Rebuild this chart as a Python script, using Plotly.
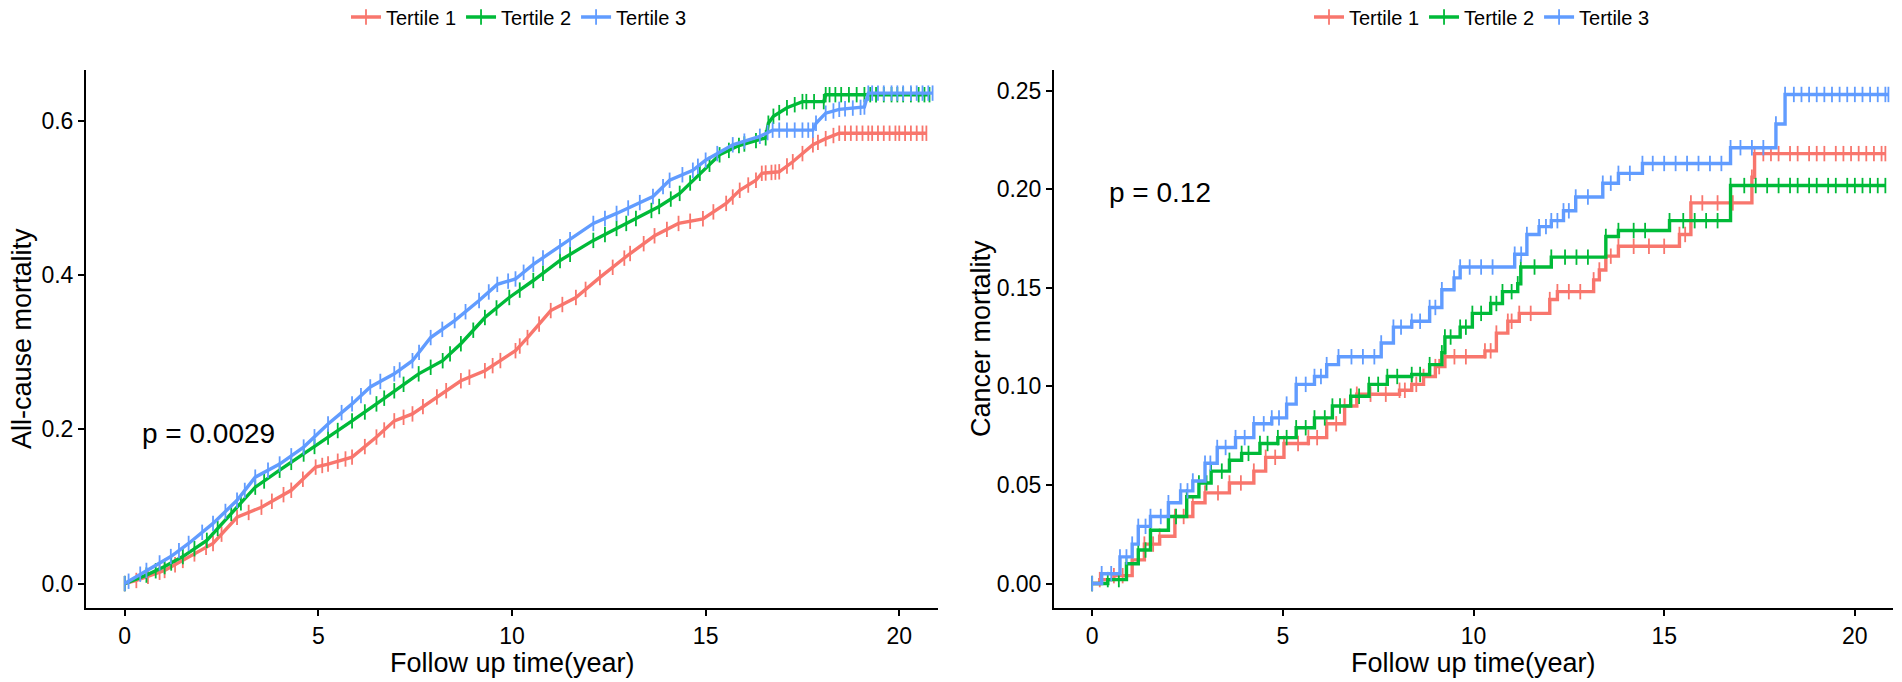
import numpy as np
import plotly.graph_objects as go
from plotly.subplots import make_subplots

# cores padrão do ggplot
cores = ["#F8766D", "#00BA38", "#619CFF"]
grupos = ["Tertile 1", "Tertile 2", "Tertile 3"]

# --- All-cause mortality (painel esquerdo) ---
ac_t1_tempo = [0, 0.3, 1.03, 1.5, 2.28, 2.9, 3.53, 4.3, 4.93, 5.25, 5.87, 6.5, 6.96, 7.43, 8.06, 8.68,
               9.3, 10.09, 10.4, 11.0, 11.65, 12.27, 13.05, 13.68, 14.3, 14.93, 15.53, 15.88, 16.3,
               16.45, 16.9, 17.25, 17.77, 18.1, 18.45, 20.7]
ac_t1_valor = [0, 0.004, 0.017, 0.03, 0.052, 0.086, 0.099, 0.121, 0.151, 0.155, 0.164, 0.19, 0.211,
               0.22, 0.242, 0.263, 0.276, 0.302, 0.319, 0.354, 0.371, 0.397, 0.428, 0.451, 0.467,
               0.473, 0.493, 0.51, 0.523, 0.532, 0.534, 0.547, 0.569, 0.577, 0.584, 0.584]
ac_t1_censura = [0.6, 0.9, 1.3, 1.8, 2.1, 2.5, 3.2, 3.8, 4.1, 4.6, 5.1, 5.5, 5.7, 6.2, 6.7, 7.2, 7.7,
                 8.3, 8.9, 9.5, 9.7, 10.2, 10.7, 11.3, 11.9, 12.6, 12.9, 13.4, 14.0, 14.6, 15.2,
                 15.7, 16.1, 16.55, 16.7, 16.8, 17.1, 17.5, 17.9, 18.3, 18.6, 18.75, 18.9, 19.05,
                 19.2, 19.3, 19.45, 19.6, 19.75, 19.9, 20.0, 20.15, 20.3, 20.45, 20.6]

ac_t2_tempo = [0, 0.56, 1.03, 1.5, 2.12, 2.75, 3.37, 4.0, 4.62, 5.25, 5.87, 6.5, 6.96, 7.59, 8.21,
               8.68, 9.3, 9.93, 10.55, 11.24, 12.1, 12.95, 13.8, 14.33, 14.85, 15.36, 15.86, 16.55,
               16.62, 16.75, 17.1, 17.5, 18.05, 18.1, 20.78]
ac_t2_valor = [0, 0.011, 0.022, 0.035, 0.056, 0.091, 0.125, 0.147, 0.168, 0.19, 0.211, 0.233, 0.25,
               0.272, 0.289, 0.311, 0.345, 0.371, 0.393, 0.419, 0.445, 0.467, 0.489, 0.506, 0.532,
               0.556, 0.568, 0.578, 0.597, 0.606, 0.617, 0.625, 0.625, 0.634, 0.634]
ac_t2_censura = [0.8, 1.2, 1.8, 2.4, 3.0, 3.6, 4.3, 4.9, 5.5, 6.2, 6.7, 7.2, 7.9, 8.4, 9.0, 9.6, 10.2,
                 10.8, 11.5, 12.4, 12.7, 13.2, 13.6, 14.1, 14.6, 15.1, 15.6, 16.0, 16.3, 16.9, 17.3,
                 17.6, 17.8, 18.2, 18.35, 18.5, 18.7, 18.9, 19.1, 19.25, 19.4, 19.6, 19.8, 19.95,
                 20.1, 20.3, 20.5, 20.65]

ac_t3_tempo = [0, 0.1, 0.56, 1.19, 1.65, 2.28, 2.9, 3.37, 4.0, 4.62, 5.25, 5.87, 6.34, 6.96, 7.43,
               7.9, 8.52, 9.15, 9.62, 10.09, 10.55, 11.24, 12.1, 12.7, 13.64, 14.07, 14.67, 15.0,
               15.7, 16.4, 16.73, 17.77, 17.85, 18.1, 18.45, 19.1, 19.2, 20.86]
ac_t3_valor = [0, 0.003, 0.017, 0.035, 0.052, 0.078, 0.108, 0.138, 0.155, 0.177, 0.207, 0.233,
               0.255, 0.272, 0.289, 0.319, 0.341, 0.367, 0.388, 0.395, 0.414, 0.437, 0.467, 0.48,
               0.502, 0.523, 0.536, 0.549, 0.569, 0.58, 0.588, 0.588, 0.597, 0.61, 0.615, 0.618,
               0.636, 0.636]
ac_t3_censura = [0.4, 0.9, 1.4, 2.0, 2.6, 3.1, 3.7, 4.3, 4.9, 5.6, 6.1, 6.6, 7.1, 7.6, 8.2, 8.8, 9.4,
                 9.9, 10.3, 10.8, 11.5, 12.4, 13.0, 13.3, 13.9, 14.4, 14.8, 15.3, 16.0, 16.6, 16.9,
                 17.1, 17.3, 17.5, 17.65, 18.3, 18.6, 18.8, 19.0, 19.3, 19.45, 19.6, 19.8, 19.95,
                 20.1, 20.3, 20.45, 20.6, 20.75]

# --- Cancer mortality (painel direito) ---
ca_t1_tempo = [0, 0.2, 0.57, 1.05, 1.37, 1.77, 2.17, 2.64, 2.96, 3.6, 4.24, 4.55, 5.03, 5.67, 6.15,
               6.62, 6.94, 8.06, 8.38, 8.69, 9.0, 9.25, 10.3, 10.6, 10.9, 11.2, 12.0, 12.2, 13.15,
               13.3, 13.47, 13.8, 15.4, 15.7, 17.3, 17.37, 20.8]
ca_t1_valor = [0, 0.002, 0.004, 0.012, 0.02, 0.024, 0.034, 0.041, 0.046, 0.051, 0.057, 0.064,
               0.071, 0.074, 0.081, 0.09, 0.096, 0.098, 0.101, 0.105, 0.11, 0.115, 0.118, 0.127,
               0.133, 0.137, 0.144, 0.148, 0.154, 0.159, 0.166, 0.171, 0.177, 0.193, 0.206, 0.218,
               0.218]
ca_t1_censura = [0.8, 1.6, 2.4, 3.3, 3.9, 4.8, 5.4, 5.9, 6.4, 7.3, 7.7, 8.2, 8.5, 9.1, 9.5, 9.8,
                 10.45, 11.0, 11.5, 12.5, 12.8, 13.6, 14.2, 14.6, 15.0, 15.55, 16.0, 16.4, 16.8,
                 17.6, 17.8, 18.0, 18.3, 18.5, 18.8, 19.0, 19.2, 19.5, 19.7, 19.9, 20.1, 20.3,
                 20.5, 20.7]

ca_t2_tempo = [0, 0.41, 0.9, 1.21, 1.53, 2.0, 2.48, 2.8, 3.12, 3.6, 3.92, 4.4, 4.87, 5.35, 5.83,
               6.3, 6.78, 7.26, 7.74, 8.38, 8.85, 9.17, 9.25, 9.65, 9.97, 10.45, 10.76, 11.16,
               11.24, 12.04, 13.47, 13.8, 15.14, 16.74, 20.8]
ca_t2_valor = [0, 0.002, 0.01, 0.017, 0.027, 0.034, 0.044, 0.051, 0.057, 0.0625, 0.066, 0.071,
               0.074, 0.079, 0.084, 0.09, 0.095, 0.101, 0.105, 0.106, 0.111, 0.117, 0.125, 0.13,
               0.137, 0.142, 0.148, 0.152, 0.1605, 0.1655, 0.176, 0.179, 0.184, 0.2018, 0.2018]
ca_t2_censura = [0.7, 1.4, 2.2, 3.0, 3.4, 4.1, 4.6, 5.1, 5.6, 6.1, 6.5, 7.0, 7.5, 8.0, 8.6, 9.4, 9.8,
                 10.2, 10.6, 11.0, 11.6, 12.4, 12.7, 13.0, 14.2, 14.5, 15.5, 15.8, 16.1, 16.4, 17.1,
                 17.4, 17.7, 18.0, 18.3, 18.5, 18.8, 19.0, 19.3, 19.5, 19.8, 20.0, 20.2, 20.4, 20.6]

ca_t3_tempo = [0, 0.25, 0.73, 1.05, 1.21, 1.53, 2.0, 2.32, 2.64, 2.96, 3.28, 3.76, 4.24, 4.71, 5.1,
               5.35, 5.83, 6.15, 6.46, 7.58, 7.9, 8.38, 8.85, 9.17, 9.49, 9.65, 11.08, 11.4, 11.72,
               12.04, 12.36, 12.68, 13.39, 13.8, 14.43, 16.74, 17.93, 18.17, 20.88]
ca_t3_valor = [0, 0.005, 0.0135, 0.02, 0.029, 0.034, 0.041, 0.047, 0.052, 0.061, 0.069, 0.074,
               0.081, 0.084, 0.091, 0.101, 0.105, 0.111, 0.115, 0.122, 0.13, 0.133, 0.14, 0.149,
               0.155, 0.1605, 0.167, 0.177, 0.181, 0.184, 0.189, 0.196, 0.203, 0.208, 0.213, 0.221,
               0.233, 0.248, 0.248]
ca_t3_censura = [0.5, 0.9, 1.4, 1.8, 2.5, 3.1, 3.5, 4.0, 4.5, 4.9, 5.6, 6.0, 6.8, 7.1, 7.4, 8.1,
                 8.6, 9.0, 9.9, 10.2, 10.5, 11.25, 11.9, 12.2, 12.5, 13.0, 13.6, 14.1, 14.7, 15.0,
                 15.3, 15.6, 15.9, 16.2, 16.5, 17.0, 17.3, 17.6, 18.4, 18.6, 18.8, 19.0, 19.2, 19.4,
                 19.6, 19.8, 20.0, 20.2, 20.4, 20.6, 20.8]

paineis = [
    [(ac_t1_tempo, ac_t1_valor, ac_t1_censura),
     (ac_t2_tempo, ac_t2_valor, ac_t2_censura),
     (ac_t3_tempo, ac_t3_valor, ac_t3_censura)],
    [(ca_t1_tempo, ca_t1_valor, ca_t1_censura),
     (ca_t2_tempo, ca_t2_valor, ca_t2_censura),
     (ca_t3_tempo, ca_t3_valor, ca_t3_censura)],
]
# painel esquerdo: muitos eventos, degraus minúsculos -> linha contínua
formas = ["linear", "hv"]


def valor_na_curva(tempo, valor, t, forma):
    if forma == "hv":
        idx = np.searchsorted(tempo, t, side="right") - 1
        return [valor[j] for j in idx]
    return list(np.interp(t, tempo, valor))


fonte = "Liberation Sans, Arial, sans-serif"
# a página tem margem de 8 px no body; tudo medido em px da imagem, menos 8
W, H = 1894, 674
OFF = 8


def px_x(x):
    return (x - OFF) / W


def px_y(y):
    return 1 - (y - OFF) / H


fig = make_subplots(rows=1, cols=2)

for col, curvas in enumerate(paineis, start=1):
    legenda = "legend" if col == 1 else "legend2"
    forma = formas[col - 1]
    for i, (tempo, valor, censura) in enumerate(curvas):
        marcador = dict(symbol="line-ns", size=11, line=dict(width=1.8, color=cores[i]))
        fig.add_trace(go.Scatter(
            x=tempo, y=valor, mode="lines+markers", name=grupos[i],
            line=dict(color=cores[i], width=3.4, shape=forma),
            marker=marcador, legend=legenda,
        ), row=1, col=col)
        # marcas de censura sobre a curva
        fig.add_trace(go.Scatter(
            x=censura, y=valor_na_curva(tempo, valor, censura, forma), mode="markers",
            marker=marcador, showlegend=False, hoverinfo="skip",
        ), row=1, col=col)

eixo = dict(showgrid=False, zeroline=False, showline=True, linecolor="black", linewidth=2,
            ticks="outside", ticklen=6, tickwidth=2, tickcolor="black", automargin=False,
            tickfont=dict(size=23, color="black", family=fonte))

fig.update_layout(
    width=W, height=H,
    # sem autoexpand: a legenda junto ao topo não pode empurrar a área do gráfico
    margin=dict(l=0, r=0, t=0, b=0, autoexpand=False),
    plot_bgcolor="white", paper_bgcolor="white",
    font=dict(family=fonte, color="black"),
    xaxis=dict(eixo, domain=[px_x(86), px_x(938)], range=[-1.0, 21.0], tickvals=[0, 5, 10, 15, 20]),
    xaxis2=dict(eixo, domain=[px_x(1054), px_x(1893)], range=[-1.0, 21.0], tickvals=[0, 5, 10, 15, 20]),
    yaxis=dict(eixo, domain=[px_y(608), px_y(70)], range=[-0.0317, 0.666],
               tickvals=[0, 0.2, 0.4, 0.6], ticktext=["0.0", "0.2", "0.4", "0.6"]),
    yaxis2=dict(eixo, domain=[px_y(608), px_y(70)], range=[-0.0124, 0.2604],
                tickvals=[0, 0.05, 0.1, 0.15, 0.2, 0.25],
                ticktext=["0.00", "0.05", "0.10", "0.15", "0.20", "0.25"]),
    legend=dict(orientation="h", x=px_x(519), xanchor="center", y=px_y(17), yanchor="middle",
                font=dict(size=20), itemwidth=30, bgcolor="rgba(0,0,0,0)"),
    legend2=dict(orientation="h", x=px_x(1482), xanchor="center", y=px_y(17), yanchor="middle",
                 font=dict(size=20), itemwidth=30, bgcolor="rgba(0,0,0,0)"),
)

# títulos dos eixos e valores de p
anotacoes = [
    dict(text="Follow up time(year)", x=px_x(512), y=px_y(663), xref="paper", yref="paper", font=dict(size=27)),
    dict(text="Follow up time(year)", x=px_x(1473), y=px_y(663), xref="paper", yref="paper", font=dict(size=27)),
    dict(text="All-cause mortality", x=px_x(22), y=px_y(339), xref="paper", yref="paper",
         textangle=-90, font=dict(size=27)),
    dict(text="Cancer mortality", x=px_x(981), y=px_y(339), xref="paper", yref="paper",
         textangle=-90, font=dict(size=27)),
    dict(text="p = 0.0029", x=0.4, y=0.195, xref="x", yref="y", xanchor="left", font=dict(size=28)),
    dict(text="p = 0.12", x=0.4, y=0.1985, xref="x2", yref="y2", xanchor="left", font=dict(size=28)),
]
for a in anotacoes:
    a.setdefault("xanchor", "center")
    a["yanchor"] = "middle"
    a["showarrow"] = False
    a["font"]["color"] = "black"
    fig.add_annotation(**a)

fig.write_html("out.html")
